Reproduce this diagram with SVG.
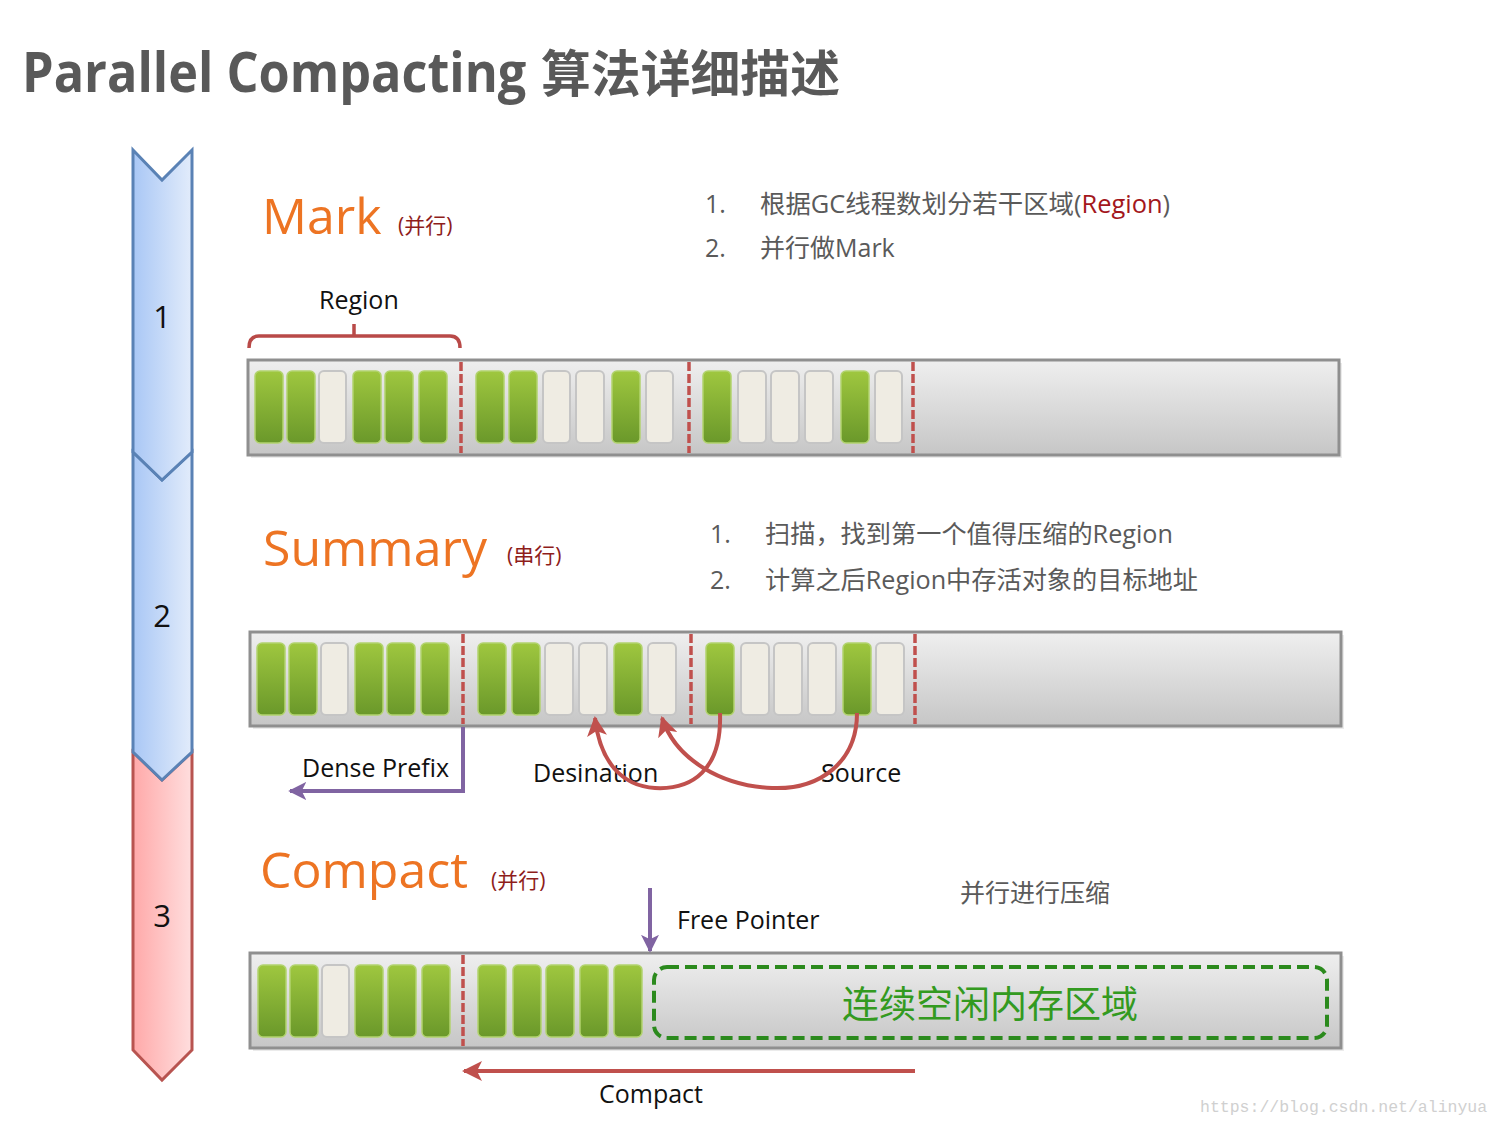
<svg xmlns="http://www.w3.org/2000/svg" width="1500" height="1125" viewBox="0 0 1500 1125">
<defs>
  <linearGradient id="blueG" x1="0" y1="0" x2="1" y2="0">
    <stop offset="0" stop-color="#a9c7f5"/>
    <stop offset="1" stop-color="#e2ecfb"/>
  </linearGradient>
  <linearGradient id="redG" x1="0" y1="0" x2="1" y2="0">
    <stop offset="0" stop-color="#ffa9a9"/>
    <stop offset="1" stop-color="#ffdede"/>
  </linearGradient>
  <linearGradient id="barG" x1="0" y1="0" x2="0" y2="1">
    <stop offset="0" stop-color="#efefef"/>
    <stop offset="1" stop-color="#c6c6c6"/>
  </linearGradient>
  <linearGradient id="greenG" x1="0" y1="0" x2="0" y2="1">
    <stop offset="0" stop-color="#9fc73f"/>
    <stop offset="1" stop-color="#6a982a"/>
  </linearGradient>
  <marker id="arrP" viewBox="0 0 10 10" refX="9" refY="5" markerWidth="4.5" markerHeight="4.5" orient="auto" markerUnits="strokeWidth">
    <path d="M0,0 L10,5 L0,10 L2.5,5 Z" fill="#8064a2"/>
  </marker>
  <marker id="arrR" viewBox="0 0 10 10" refX="9" refY="5" markerWidth="5" markerHeight="5" orient="auto" markerUnits="strokeWidth">
    <path d="M0,0 L10,5 L0,10 L2.5,5 Z" fill="#c0504d"/>
  </marker>
</defs>
<style>
  text { font-family: "Open Sans", "Noto Sans CJK SC", sans-serif; }
  .title { font-weight: bold; fill: #595959; }
  .phase { fill: #ed7423; font-size: 50px; }
  .sub { fill: #8e1d1b; font-size: 21px; }
  .list { fill: #5a5a5a; font-size: 25px; }
  .lbl { fill: #111; font-size: 25px; }
  .num { fill: #111; font-size: 31px; text-anchor: middle; }
  .wm { font-family: "Liberation Mono", monospace; font-size: 16.5px; fill: #d0d0d0; }
  .bar { fill: url(#barG); stroke: #8f8f8f; stroke-width: 3; }
  .shadow { fill: #000; opacity: 0.08; }
  .g { fill: url(#greenG); stroke: #b2d36f; stroke-width: 1.5; }
  .l { fill: #efece3; stroke: #c5c5c5; stroke-width: 2; }
  .div { stroke: #c0504d; stroke-width: 3.5; stroke-dasharray: 9 3; }
  .purple { fill: none; stroke: #8064a2; stroke-width: 4; }
  .red { fill: none; stroke: #c0504d; stroke-width: 4; }
</style>
<rect width="1500" height="1125" fill="#ffffff"/>

<g id="title">
  <text class="title" transform="translate(22,92) scale(0.9,1)" x="0" y="0" font-size="56">Parallel Compacting</text>
  <text class="title" x="541" y="92" font-size="50" textLength="299" lengthAdjust="spacingAndGlyphs">算法详细描述</text>
</g>

<g id="step3">
  <polygon points="133,752 162,780 192,752 192,1050 162,1080 133,1050" fill="url(#redG)" stroke="#b85450" stroke-width="3"/>
  <text class="num" x="162" y="927">3</text>
</g>
<g id="step2">
  <polygon points="133,452 162,480 192,452 192,752 162,780 133,752" fill="url(#blueG)" stroke="#5a82b5" stroke-width="3"/>
  <text class="num" x="162" y="627">2</text>
</g>
<g id="step1">
  <polygon points="133,150 162,180 192,150 192,452 162,480 133,452" fill="url(#blueG)" stroke="#5a82b5" stroke-width="3"/>
  <text class="num" x="162" y="328">1</text>
</g>

<g id="mark-head">
  <text class="phase" x="262" y="234">Mark</text>
  <text class="sub" x="398" y="233">(并行)</text>
</g>
<g id="mark-list">
  <text class="list" x="705" y="213">1.</text>
  <text class="list" x="760" y="213" textLength="410" lengthAdjust="spacingAndGlyphs">根据GC线程数划分若干区域(<tspan fill="#a3171c">Region</tspan>)</text>
  <text class="list" x="705" y="257">2.</text>
  <text class="list" x="760" y="257">并行做Mark</text>
</g>

<g id="region-label">
  <text class="lbl" x="319" y="309">Region</text>
  <path d="M249,348 Q249,336 259,336 L450,336 Q460,336 460,348 M354,336 L354,324" fill="none" stroke="#b94a48" stroke-width="3.5"/>
</g>

<g id="bar1">
  <rect class="shadow" x="251" y="363" width="1091" height="95"/>
  <rect class="bar" x="248" y="360" width="1091" height="95"/>
  <rect class="g" x="255" y="371" width="28" height="72" rx="5"/>
  <rect class="g" x="287" y="371" width="28" height="72" rx="5"/>
  <rect class="l" x="319" y="371" width="27" height="72" rx="5"/>
  <rect class="g" x="353" y="371" width="28" height="72" rx="5"/>
  <rect class="g" x="385" y="371" width="28" height="72" rx="5"/>
  <rect class="g" x="419" y="371" width="28" height="72" rx="5"/>
  <line class="div" x1="461" y1="362" x2="461" y2="453"/>
  <rect class="g" x="476" y="371" width="28" height="72" rx="5"/>
  <rect class="g" x="509" y="371" width="28" height="72" rx="5"/>
  <rect class="l" x="543" y="371" width="27" height="72" rx="5"/>
  <rect class="l" x="576" y="371" width="28" height="72" rx="5"/>
  <rect class="g" x="612" y="371" width="28" height="72" rx="5"/>
  <rect class="l" x="646" y="371" width="27" height="72" rx="5"/>
  <line class="div" x1="689" y1="362" x2="689" y2="453"/>
  <rect class="g" x="703" y="371" width="28" height="72" rx="5"/>
  <rect class="l" x="738" y="371" width="28" height="72" rx="5"/>
  <rect class="l" x="771" y="371" width="28" height="72" rx="5"/>
  <rect class="l" x="805" y="371" width="28" height="72" rx="5"/>
  <rect class="g" x="841" y="371" width="28" height="72" rx="5"/>
  <rect class="l" x="875" y="371" width="27" height="72" rx="5"/>
  <line class="div" x1="913" y1="362" x2="913" y2="453"/>
</g>

<g id="summary-head">
  <text class="phase" x="263" y="566">Summary</text>
  <text class="sub" x="507" y="563">(串行)</text>
</g>
<g id="summary-list">
  <text class="list" x="710" y="543">1.</text>
  <text class="list" x="765" y="543" textLength="408" lengthAdjust="spacingAndGlyphs">扫描，找到第一个值得压缩的Region</text>
  <text class="list" x="710" y="589">2.</text>
  <text class="list" x="765" y="589" textLength="433" lengthAdjust="spacingAndGlyphs">计算之后Region中存活对象的目标地址</text>
</g>

<g id="bar2">
  <rect class="shadow" x="253" y="635" width="1091" height="94"/>
  <rect class="bar" x="250" y="632" width="1091" height="94"/>
  <rect class="g" x="257" y="643" width="28" height="72" rx="5"/>
  <rect class="g" x="289" y="643" width="28" height="72" rx="5"/>
  <rect class="l" x="321" y="643" width="27" height="72" rx="5"/>
  <rect class="g" x="355" y="643" width="28" height="72" rx="5"/>
  <rect class="g" x="387" y="643" width="28" height="72" rx="5"/>
  <rect class="g" x="421" y="643" width="28" height="72" rx="5"/>
  <line class="div" x1="463" y1="634" x2="463" y2="724"/>
  <rect class="g" x="478" y="643" width="28" height="72" rx="5"/>
  <rect class="g" x="512" y="643" width="28" height="72" rx="5"/>
  <rect class="l" x="545" y="643" width="28" height="72" rx="5"/>
  <rect class="l" x="579" y="643" width="28" height="72" rx="5"/>
  <rect class="g" x="614" y="643" width="28" height="72" rx="5"/>
  <rect class="l" x="648" y="643" width="28" height="72" rx="5"/>
  <line class="div" x1="691" y1="634" x2="691" y2="724"/>
  <rect class="g" x="706" y="643" width="28" height="72" rx="5"/>
  <rect class="l" x="741" y="643" width="28" height="72" rx="5"/>
  <rect class="l" x="774" y="643" width="28" height="72" rx="5"/>
  <rect class="l" x="808" y="643" width="28" height="72" rx="5"/>
  <rect class="g" x="843" y="643" width="28" height="72" rx="5"/>
  <rect class="l" x="876" y="643" width="28" height="72" rx="5"/>
  <line class="div" x1="915" y1="634" x2="915" y2="724"/>
</g>

<g id="summary-labels">
  <text class="lbl" x="302" y="777">Dense Prefix</text>
  <text class="lbl" x="533" y="782">Desination</text>
  <text class="lbl" x="821" y="782">Source</text>
</g>

<g id="compact-head">
  <text class="phase" x="260" y="888">Compact</text>
  <text class="sub" x="491" y="888">(并行)</text>
  <text class="list" x="960" y="902">并行进行压缩</text>
  <text class="lbl" x="677" y="929">Free Pointer</text>
</g>

<g id="bar3">
  <rect class="shadow" x="253" y="956" width="1091" height="95"/>
  <rect class="bar" x="250" y="953" width="1091" height="95"/>
  <rect class="g" x="258" y="965" width="28" height="72" rx="5"/>
  <rect class="g" x="290" y="965" width="28" height="72" rx="5"/>
  <rect class="l" x="322" y="965" width="27" height="72" rx="5"/>
  <rect class="g" x="355" y="965" width="28" height="72" rx="5"/>
  <rect class="g" x="388" y="965" width="28" height="72" rx="5"/>
  <rect class="g" x="422" y="965" width="28" height="72" rx="5"/>
  <line class="div" x1="463" y1="955" x2="463" y2="1046"/>
  <rect class="g" x="478" y="965" width="28" height="72" rx="5"/>
  <rect class="g" x="513" y="965" width="28" height="72" rx="5"/>
  <rect class="g" x="546" y="965" width="28" height="72" rx="5"/>
  <rect class="g" x="580" y="965" width="28" height="72" rx="5"/>
  <rect class="g" x="614" y="965" width="28" height="72" rx="5"/>
</g>
<g id="free-area">
  <rect x="654" y="967" width="673" height="71" rx="13" fill="none" stroke="#2b8a1d" stroke-width="4" stroke-dasharray="12 6"/>
  <text x="990" y="1018" font-size="37" fill="#339a20" text-anchor="middle">连续空闲内存区域</text>
</g>

<g id="connectors">
  <path class="purple" d="M463,727 L463,791 L290,791" marker-end="url(#arrP)"/>
  <path class="red" d="M720,713 C722,770 692,790 655,788 C622,786 600,762 595,718" marker-end="url(#arrR)"/>
  <path class="red" d="M857,713 C857,762 820,790 772,788 C722,786 676,760 662,718" marker-end="url(#arrR)"/>
  <path class="purple" d="M650,888 L650,951" marker-end="url(#arrP)"/>
  <path class="red" d="M915,1071 L464,1071" marker-end="url(#arrR)"/>
</g>
<g id="compact-label">
  <text class="lbl" x="599" y="1103">Compact</text>
</g>

<text class="wm" x="1200" y="1112">https://blog.csdn.net/alinyua</text>
</svg>
